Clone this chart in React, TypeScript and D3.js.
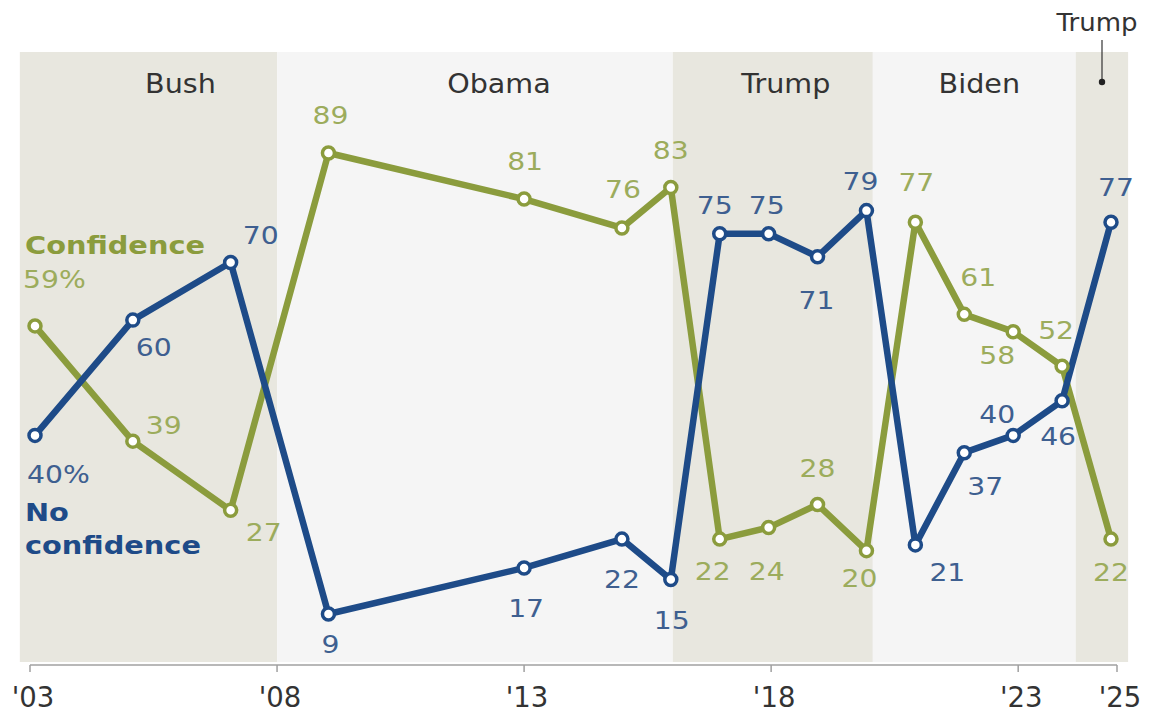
import React from "react";
import * as d3 from "d3";

const years = [2003, 2005, 2007, 2009, 2013, 2015, 2016, 2017, 2018, 2019, 2020, 2021, 2022, 2023, 2024, 2025];
const confidence = [59, 39, 27, 89, 81, 76, 83, 22, 24, 28, 20, 77, 61, 58, 52, 22];
const noConfidence = [40, 60, 70, 9, 17, 22, 15, 75, 75, 71, 79, 21, 37, 40, 46, 77];
const tickYears = [2003, 2008, 2013, 2018, 2023, 2025];
const tickLabels = ["'03", "'08", "'13", "'18", "'23", "'25"];
const periodNames = ["Bush", "Obama", "Trump", "Biden", "Trump"];
const periodStarts = [2002.69, 2007.95, 2016.04, 2020.13, 2024.28];
const periodEnds = [2007.95, 2016.04, 2020.13, 2024.28, 2025.35];

// label placement (offsets from point, px)
const greenOff: [number, number][] = [[-12, -47], [31, -16], [33, 22], [2, -38], [1, -38], [1, -39], [0, -38], [-7, 32], [-2, 43], [0, -37], [-7, 27], [1, -40], [14, -37], [-16, 23], [-6, -36], [0, 33]];
const blueOff: [number, number][] = [[-8, 39], [21, 27], [30, -27], [2, 30], [2, 40], [0, 40], [1, 41], [-5, -29], [-2, -29], [-1, 43], [-6, -30], [32, 27], [21, 33], [-16, -21], [-4, 35], [5, -35]];

const W = 1155, H = 712;
const GREEN = "#8b9c3d";
const GREEN_TXT = "#9cac5c";
const BLUE = "#1e4b88";
const BLUE_TXT = "#3e5f90";
const SHADE = "#e8e7df";
const LIGHT = "#f5f5f5";
const FONT = "'DejaVu Sans', Verdana, sans-serif";

function SText(props: { x: number; y: number; s?: number; size: number; fill: string; anchor?: string; weight?: string; children: React.ReactNode }) {
  const { x, y, s = 1, size, fill, anchor = "middle", weight = "normal", children } = props;
  return (
    <text
      transform={`translate(${x},${y}) scale(${s},1)`}
      textAnchor={anchor as any}
      dy="0.36em"
      fontSize={size}
      fontFamily={FONT}
      fontWeight={weight}
      fill={fill}
    >
      {children}
    </text>
  );
}

export default function App() {
  const x = d3.scaleLinear().domain([2003, 2025]).range([35, 1111]);
  const xAxis = d3.scaleLinear().domain([2003, 2025]).range([30, 1117]);
  const y = d3.scaleLinear().domain([0, 100]).range([665.9, 89.6]);
  const bandTop = 52, bandBottom = 662, axisY = 665;

  const line = d3.line<number>().x((_, i) => x(years[i])).y((v) => y(v));

  return (
    <svg width={W} height={H} style={{ position: "absolute", left: 0, top: 0, background: "#fff" }}>
      {periodNames.map((n, i) => (
        <rect key={"b" + i} x={x(periodStarts[i])} y={bandTop} width={x(periodEnds[i]) - x(periodStarts[i])} height={bandBottom - bandTop} fill={i % 2 === 0 ? SHADE : LIGHT} />
      ))}
      {periodNames.map((n, i) =>
        i < 4 ? (
          <SText key={"p" + i} x={(x(periodStarts[i]) + x(periodEnds[i])) / 2 + (i === 0 ? 32 : i === 1 ? 24 : i === 2 ? 13 : i === 3 ? 5 : 0)} y={83} size={27} s={1.06} fill="#333">
            {n}
          </SText>
        ) : (
          <g key={"p" + i}>
            <SText x={1097} y={22} size={25} s={1.04} fill="#333">{n}</SText>
            <line x1={x(2025) - 9} x2={x(2025) - 9} y1={40} y2={82} stroke="#333" strokeWidth={1.2} />
            <circle cx={x(2025) - 9} cy={82} r={3.2} fill="#222" />
          </g>
        )
      )}

      {/* axis */}
      <line x1={xAxis(2003)} x2={xAxis(2025)} y1={axisY} y2={axisY} stroke="#a0a0a0" strokeWidth={1.5} />
      {tickYears.map((t, i) => (
        <g key={"t" + i}>
          <line x1={xAxis(t)} x2={xAxis(t)} y1={axisY} y2={axisY + 7} stroke="#a0a0a0" strokeWidth={1.5} />
          <SText x={xAxis(t) + 3} y={697} size={27.5} fill="#333">{tickLabels[i]}</SText>
        </g>
      ))}

      <path d={line(confidence) || ""} fill="none" stroke={GREEN} strokeWidth={6.5} strokeLinejoin="round" />
      <path d={line(noConfidence) || ""} fill="none" stroke={BLUE} strokeWidth={6.5} strokeLinejoin="round" />
      {confidence.map((v, i) => (
        <circle key={"gc" + i} cx={x(years[i])} cy={y(v)} r={6} fill="#fff" stroke={GREEN} strokeWidth={3.5} />
      ))}
      {noConfidence.map((v, i) => (
        <circle key={"bc" + i} cx={x(years[i])} cy={y(v)} r={6} fill="#fff" stroke={BLUE} strokeWidth={3.5} />
      ))}

      {confidence.map((v, i) => (
        <SText key={"gl" + i} x={x(years[i]) + greenOff[i][0]} y={y(v) + greenOff[i][1]} size={25} s={1.13} fill={GREEN_TXT} anchor={i === 0 ? "start" : "middle"}>
          {i === 0 ? `${v}%` : v}
        </SText>
      ))}
      {noConfidence.map((v, i) => (
        <SText key={"bl" + i} x={x(years[i]) + blueOff[i][0]} y={y(v) + blueOff[i][1]} size={25} s={1.13} fill={BLUE_TXT} anchor={i === 0 ? "start" : "middle"}>
          {i === 0 ? `${v}%` : v}
        </SText>
      ))}

      {/* series names */}
      <SText x={25} y={245} size={24} s={1.2} weight="bold" fill={GREEN} anchor="start">Confidence</SText>
      <SText x={25} y={512} size={24} s={1.2} weight="bold" fill={BLUE} anchor="start">No</SText>
      <SText x={25} y={545} size={24} s={1.2} weight="bold" fill={BLUE} anchor="start">confidence</SText>
    </svg>
  );
}
